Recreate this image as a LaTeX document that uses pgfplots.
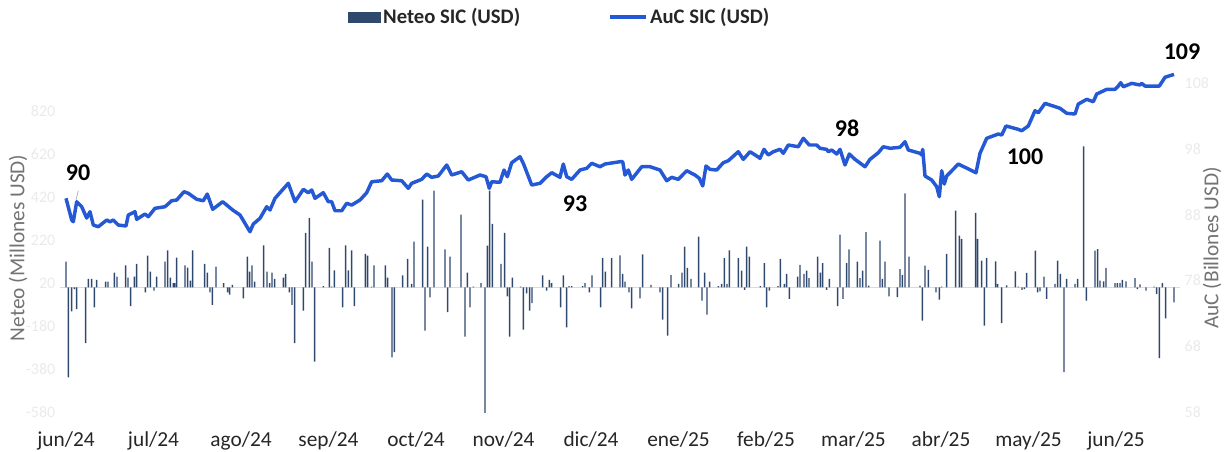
\documentclass[border=0pt]{standalone}
\usepackage{fontspec}
\setmainfont{Carlito}
\usepackage{pgfplots}
\pgfplotsset{compat=1.18}
\usepackage{pgfplotstable}

\definecolor{barc}{RGB}{47,72,110}
\definecolor{linec}{RGB}{36,88,212}
\definecolor{ticklight}{RGB}{234,234,234}
\definecolor{labgray}{RGB}{115,115,115}
\definecolor{xlab}{RGB}{38,38,38}

% x = position along the time axis (jun/24 = 66, one month = 87.5)
\pgfplotstableread{
x y
66.0 119
68.3 -419
71.7 -112
74.3 -8
76.7 -101
85.7 -260
88.3 39
91.7 39
94.3 -93
96.7 34
105.7 26
108.0 26
114.3 68
117.0 50
125.7 102
128.0 45
130.7 -88
134.3 50
136.7 109
145.3 -23
147.7 147
150.3 73
154.0 -16
156.7 50
165.0 119
167.7 172
170.3 45
173.3 20
174.7 20
176.7 138
185.0 102
187.7 91
190.3 31
192.7 172
204.7 109
207.3 68
210.0 -23
212.3 -82
216.0 96
223.7 20
227.7 -23
229.7 -34
232.3 11
243.3 -51
247.3 143
249.7 73
252.0 102
254.7 26
263.7 195
267.0 73
269.7 20
272.0 68
274.7 39
283.3 45
285.7 62
289.3 -23
292.0 -82
294.7 -260
303.3 -109
305.7 253
309.3 322
312.0 119
314.7 -346
323.3 5
329.3 183
331.7 3
334.3 79
342.7 -93
345.7 195
348.3 79
351.7 172
354.3 -88
365.3 155
367.7 147
371.7 3
374.0 102
385.3 102
387.7 45
392.0 -326
394.3 -302
402.7 56
407.7 132
411.7 16
414.0 212
422.7 408
425.0 -202
427.7 189
430.0 -47
434.0 450
445.0 177
447.7 -116
450.0 143
461.0 338
465.0 -229
467.3 68
470.0 -93
473.3 3
481.0 20
485.0 -584
487.3 194
489.7 450
492.3 295
501.0 109
504.7 253
507.3 -42
509.7 -229
512.3 45
520.7 3
523.3 -197
526.7 -28
529.7 -109
532.0 -74
542.7 56
546.7 -16
549.3 34
551.7 20
560.7 -93
563.3 56
566.7 -186
569.0 5
571.7 5
582.7 5
585.0 20
589.3 -23
592.0 56
600.7 -93
602.7 136
605.3 73
611.7 136
620.0 149
622.7 62
625.0 26
629.0 -23
631.7 -98
640.0 -51
642.7 153
651.0 11
660.0 -23
662.7 -150
667.7 -225
671.0 57
678.7 16
682.0 68
684.7 189
687.3 90
691.0 39
698.7 236
702.0 -62
704.7 68
707.0 -127
709.7 26
718.3 5
721.7 16
724.3 136
727.0 16
729.3 172
738.3 136
741.7 78
744.7 -12
746.7 189
749.3 143
760.3 5
764.3 113
766.7 -93
769.3 -16
778.0 5
780.3 132
784.3 16
786.7 62
789.3 -54
797.7 50
800.0 104
804.0 62
806.7 78
809.0 43
817.7 143
820.3 68
822.7 113
826.7 -12
829.3 39
837.7 -88
840.0 245
843.0 -54
846.7 113
849.0 177
857.3 119
860.0 43
862.7 78
866.0 257
868.7 8
880.0 217
882.3 39
885.0 119
889.0 -42
897.3 -46
900.0 85
902.3 57
905.0 437
909.0 143
920.0 8
922.3 -155
925.0 101
928.3 81
936.0 -23
939.3 -57
941.7 3
946.7 155
955.7 357
959.3 240
961.7 225
975.7 346
977.7 225
981.7 124
984.3 -178
986.7 136
995.7 121
997.7 16
1001.7 -167
1006.7 9
1015.3 74
1018.3 3
1022.0 -12
1024.3 -8
1026.7 67
1035.3 171
1037.7 -23
1040.0 -19
1044.0 50
1046.7 -54
1055.0 16
1057.7 124
1060.3 62
1064.0 -395
1066.7 39
1075.0 16
1077.7 39
1083.7 656
1086.3 -62
1095.0 171
1097.7 178
1100.0 31
1103.7 28
1106.0 90
1115.0 20
1117.3 20
1120.0 20
1122.3 34
1126.0 28
1135.0 43
1137.3 -8
1140.0 14
1146.0 -16
1154.0 3
1156.7 -31
1159.3 -329
1162.3 20
1165.7 -144
1174.0 -70
}\neteo

\pgfplotstableread{
x y
66.0 90.48
71.7 87.18
73.3 86.92
76.7 89.96
81.7 89.20
86.7 87.48
90.0 88.44
93.3 86.42
98.3 86.16
106.7 87.18
110.0 86.92
113.3 87.18
118.3 86.42
126.0 86.27
128.3 87.94
135.0 88.44
136.7 87.29
145.0 88.09
148.3 87.68
155.0 88.96
165.0 89.20
171.7 90.11
176.7 90.22
184.0 91.48
188.3 91.24
196.7 90.33
203.3 90.11
207.3 91.13
212.7 88.81
222.7 89.96
232.7 88.70
240.0 87.94
250.0 85.40
253.3 86.57
260.0 87.44
266.7 89.20
270.0 88.70
275.0 90.48
288.3 92.76
295.0 89.96
303.3 91.84
308.3 91.33
311.7 91.74
315.0 90.48
323.3 91.33
328.3 89.96
331.7 89.96
335.0 88.59
341.7 88.59
346.7 89.72
351.7 89.46
360.0 90.22
366.7 91.33
371.7 93.00
381.7 93.15
387.3 94.17
391.7 93.26
401.7 93.15
408.3 92.00
411.7 92.76
421.7 93.36
426.7 94.17
431.7 93.67
438.3 93.87
446.7 95.54
451.7 94.02
461.7 94.52
468.3 93.26
480.0 94.02
486.0 93.76
489.3 92.00
491.7 93.00
500.0 92.91
504.0 94.78
507.3 93.76
511.7 95.89
520.0 96.80
523.3 95.80
531.7 92.50
540.0 92.76
546.7 93.76
551.7 94.37
560.0 93.67
563.3 95.69
566.7 93.76
571.7 93.36
580.0 94.78
586.7 95.04
591.7 95.80
600.0 95.28
605.0 95.69
620.0 96.04
622.7 96.04
625.0 94.02
628.3 94.78
631.7 93.36
641.7 95.28
650.0 95.28
660.0 94.78
666.7 93.15
671.7 93.67
678.3 93.36
686.7 94.67
695.0 94.02
699.3 93.52
702.7 92.35
706.0 95.39
710.0 94.88
716.7 94.78
723.3 95.89
728.3 96.19
738.3 97.56
743.3 96.40
750.0 97.56
756.7 96.91
760.0 96.56
764.0 97.92
768.3 97.06
773.3 97.56
780.0 97.92
783.3 97.32
788.3 98.58
798.3 98.32
803.3 99.60
809.3 98.58
816.7 98.58
820.0 98.08
826.7 97.92
828.3 97.56
831.7 97.82
836.7 97.21
840.0 97.92
845.0 95.54
849.3 97.21
855.0 96.40
865.0 95.28
870.0 96.40
878.3 97.41
883.3 98.32
890.0 98.08
900.0 98.23
905.0 99.08
908.3 97.82
920.0 97.32
921.7 97.06
922.7 97.92
925.0 93.87
931.7 93.26
936.7 92.24
939.3 90.72
941.7 94.67
944.3 92.65
946.7 93.87
958.3 95.69
976.0 94.37
980.0 97.32
986.7 99.60
998.3 100.25
1001.7 100.10
1006.0 101.47
1018.3 100.96
1021.7 100.75
1028.3 101.47
1035.0 103.79
1038.3 103.49
1045.0 104.91
1060.0 104.16
1066.7 103.40
1075.0 103.29
1078.3 104.81
1086.7 105.52
1093.3 105.16
1096.7 106.33
1106.7 107.04
1115.0 107.04
1118.3 107.54
1120.7 108.05
1123.3 107.44
1131.7 107.95
1140.0 107.70
1141.7 107.95
1145.0 107.54
1159.3 107.54
1165.0 108.87
1174.0 109.32
}\auc

\begin{document}
\begin{tikzpicture}
\useasboundingbox (-45pt,-29.25pt) rectangle (876.75pt,309pt);
\begin{axis}[
  at={(0pt,0pt)}, anchor=south west,
  scale only axis, width=840pt, height=260.25pt,
  xmin=60, xmax=1180, ymin=-580, ymax=1034,
  axis y line*=left, axis x line*=bottom,
  axis line style={draw=none},
  major tick length=0pt, tick style={draw=none},
  ytick={-580,-380,-180,20,220,420,620,820},
  yticklabel style={font=\fontsize{12}{14}\selectfont, text=ticklight},
  xtick={66,153.5,241,328.5,416,503.5,591,678.5,766,853.5,941,1028.5,1116},
  xticklabels={jun/24,jul/24,ago/24,sep/24,oct/24,nov/24,dic/24,ene/25,feb/25,mar/25,abr/25,may/25,jun/25},
  xticklabel style={font=\fontsize{16}{18}\selectfont, text=xlab, yshift=-11pt},
  /pgf/number format/assume math mode=true,
  extra y ticks={0}, extra y tick labels={},
  extra y tick style={grid=major, major grid style={draw=gray!28, line width=1pt}},
  ylabel={Neteo (Millones USD)},
  every axis y label/.style={at={(axis description cs:-0.0375,0.473)}, rotate=90, anchor=center, font=\fontsize{16}{18}\selectfont, text=labgray},
  clip=false,
]
\addplot[ybar, bar width=1.1pt, fill=barc, draw=none] table[x=x,y=y] {\neteo};
\end{axis}
\begin{axis}[
  at={(0pt,0pt)}, anchor=south west,
  scale only axis, width=840pt, height=260.25pt,
  xmin=60, xmax=1180, ymin=58, ymax=110.74,
  axis y line*=right, axis x line=none,
  axis line style={draw=none},
  major tick length=0pt, tick style={draw=none},
  ytick={58,68,78,88,98,108},
  yticklabel style={font=\fontsize{12}{14}\selectfont, text=ticklight},
  /pgf/number format/assume math mode=true,
  ylabel={AuC (Billones USD)},
  every axis y label/.style={at={(axis description cs:1.0286,0.473)}, rotate=90, anchor=center, font=\fontsize{16}{18}\selectfont, text=labgray},
  legend style={at={(0.4464,1.1383)}, anchor=center, draw=none, fill=none,
    legend columns=2, font=\fontsize{15.5}{17}\selectfont\bfseries, text=xlab,
    /tikz/every even column/.append style={column sep=64pt}},
  legend cell align=left,
  clip=false,
]
\addlegendimage{legend image code/.code={\fill[barc] (0pt,-3.75pt) rectangle (24pt,3.75pt);}}
\addlegendentry{Neteo SIC (USD)}
\addplot[linec, line width=2.6pt, line join=round, no markers,
  legend image code/.code={\draw[linec, line width=2.4pt] (0pt,0pt) -- (27pt,0pt);}]
  table[x=x,y=y] {\auc};
\addlegendentry{AuC SIC (USD)}
\draw[gray!60, line width=0.6pt] (axis cs:78.3,91.63) -- (axis cs:76,90.22);
\node[font=\fontsize{18}{20}\selectfont\bfseries] at (axis cs:78,94.32) {90};
\node[font=\fontsize{18}{20}\selectfont\bfseries] at (axis cs:575,89.61) {93};
\node[font=\fontsize{18}{20}\selectfont\bfseries] at (axis cs:847,101.16) {98};
\node[font=\fontsize{18}{20}\selectfont\bfseries] at (axis cs:1025,96.75) {100};
\node[font=\fontsize{18}{20}\selectfont\bfseries] at (axis cs:1182,112.7) {109};
\end{axis}
\end{tikzpicture}
\end{document}
